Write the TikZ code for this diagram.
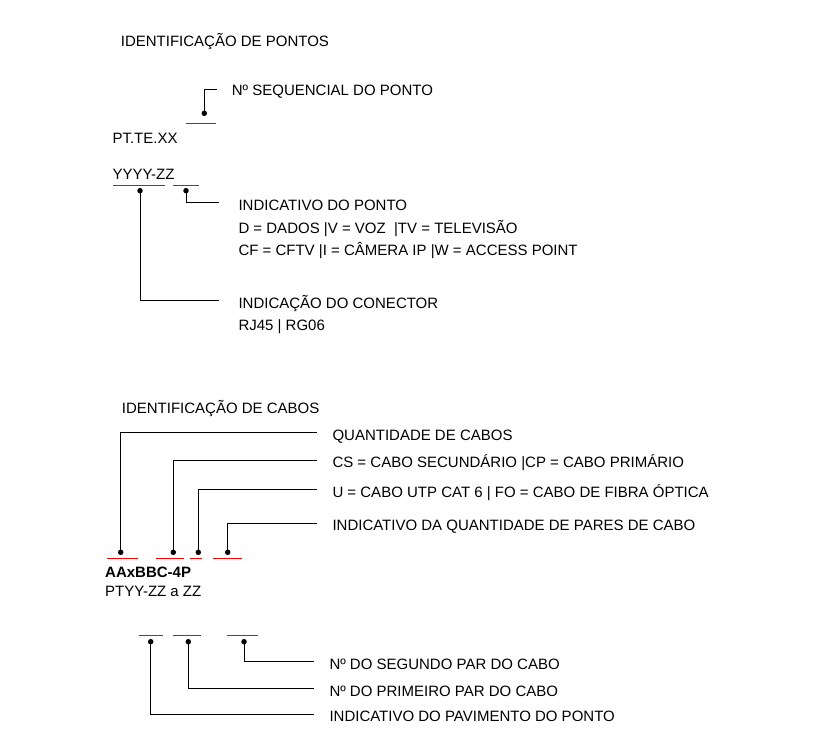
\documentclass[tikz,border=0pt]{standalone}
\usepackage{fontspec}
\setmainfont{Liberation Sans}
\definecolor{barred}{RGB}{255,0,0}
\begin{document}
\begin{tikzpicture}[x=1pt,y=-1pt,
  lbl/.style={anchor=base west,inner sep=0pt,font=\fontsize{15}{18}\selectfont},
  lblb/.style={lbl,font=\fontsize{15}{18}\selectfont\bfseries},
  lead/.style={black,line width=0.9pt},
  redbar/.style={barred,line width=1.2pt},
  dotnode/.style={circle,fill=black,inner sep=0pt,minimum size=5.5pt}
]
\useasboundingbox[fill=white] (0,0) rectangle (827,737);

% ---------- Identificacao de pontos ----------
\node[lbl] (tp) at (120.7,46) {IDENTIFICAÇÃO DE PONTOS};
\node[lbl] (seq) at (231.7,95.5) {Nº SEQUENCIAL DO PONTO};
\coordinate (e0) at (216.7,89);
\node[dotnode] (p0) at (204.3,113.3) {};
\draw[lead] (p0.center) |- (e0);
\draw[redbar] (185.7,123.5) -- (215.7,123.5);

\node[lbl] (pt) at (112.3,143) {PT.TE.XX};
\node[lbl] (yy) at (112.3,179) {YYYY-ZZ};
\draw[redbar] (113.3,185.5) -- (165,185.5);
\draw[redbar] (173.3,185.5) -- (199.3,185.5);
\node[dotnode] (p1) at (140,190.7) {};
\node[dotnode] (p2) at (186,190.7) {};
\coordinate (e2) at (219,202.3);
\coordinate (e1) at (219,300.7);
\draw[lead] (p2.center) |- (e2);
\draw[lead] (p1.center) |- (e1);
\node[lbl] (ip1) at (238.3,210) {INDICATIVO DO PONTO};
\node[lbl] (ip2) at (238.3,233) {D = DADOS |V = VOZ \ |TV = TELEVISÃO};
\node[lbl] (ip3) at (238.3,255) {CF = CFTV |I = CÂMERA IP |W = ACCESS POINT};
\node[lbl] (ic1) at (238.3,308.5) {INDICAÇÃO DO CONECTOR};
\node[lbl] (ic2) at (238.3,330.5) {RJ45 | RG06};

% ---------- Identificacao de cabos ----------
\node[lbl] (tc) at (121.7,413) {IDENTIFICAÇÃO DE CABOS};
\node[dotnode] (c1) at (120.7,552.3) {};
\node[dotnode] (c2) at (173.3,552.3) {};
\node[dotnode] (c3) at (198.3,552.3) {};
\node[dotnode] (c4) at (227.7,552.3) {};
\coordinate (f1) at (316.7,432.7);
\coordinate (f2) at (316.7,460);
\coordinate (f3) at (316.7,489.3);
\coordinate (f4) at (316.7,523.3);
\draw[lead] (c1.center) |- (f1);
\draw[lead] (c2.center) |- (f2);
\draw[lead] (c3.center) |- (f3);
\draw[lead] (c4.center) |- (f4);
\node[lbl] (q1) at (332.3,440) {QUANTIDADE DE CABOS};
\node[lbl] (q2) at (332.3,467) {CS = CABO SECUNDÁRIO |CP = CABO PRIMÁRIO};
\node[lbl] (q3) at (332.3,497) {U = CABO UTP CAT 6 | FO = CABO DE FIBRA ÓPTICA};
\node[lbl] (q4) at (332.3,530) {INDICATIVO DA QUANTIDADE DE PARES DE CABO};
\draw[redbar] (107.3,558.5) -- (137.7,558.5);
\draw[redbar] (156,558.5) -- (184,558.5);
\draw[redbar] (190,558.5) -- (202.3,558.5);
\draw[redbar] (213.3,558.5) -- (241.7,558.5);
\node[lblb] (code) at (105,577.3) {AAxBBC-4P};
\node[lbl] (code2) at (105,596.7) {PTYY-ZZ a ZZ};

\draw[redbar] (139.3,635.5) -- (162.7,635.5);
\draw[redbar] (172.7,635.5) -- (201,635.5);
\draw[redbar] (226.7,635.5) -- (257.7,635.5);
\node[dotnode] (b1) at (150.7,641.7) {};
\node[dotnode] (b2) at (188.3,641.7) {};
\node[dotnode] (b3) at (244,641.7) {};
\coordinate (g3) at (314,661);
\coordinate (g2) at (314,688.3);
\coordinate (g1) at (314,714.3);
\draw[lead] (b3.center) |- (g3);
\draw[lead] (b2.center) |- (g2);
\draw[lead] (b1.center) |- (g1);
\node[lbl] (s3) at (329.3,669.3) {Nº DO SEGUNDO PAR DO CABO};
\node[lbl] (s2) at (329.3,696.3) {Nº DO PRIMEIRO PAR DO CABO};
\node[lbl] (s1) at (329.3,721.7) {INDICATIVO DO PAVIMENTO DO PONTO};
\end{tikzpicture}
\end{document}
